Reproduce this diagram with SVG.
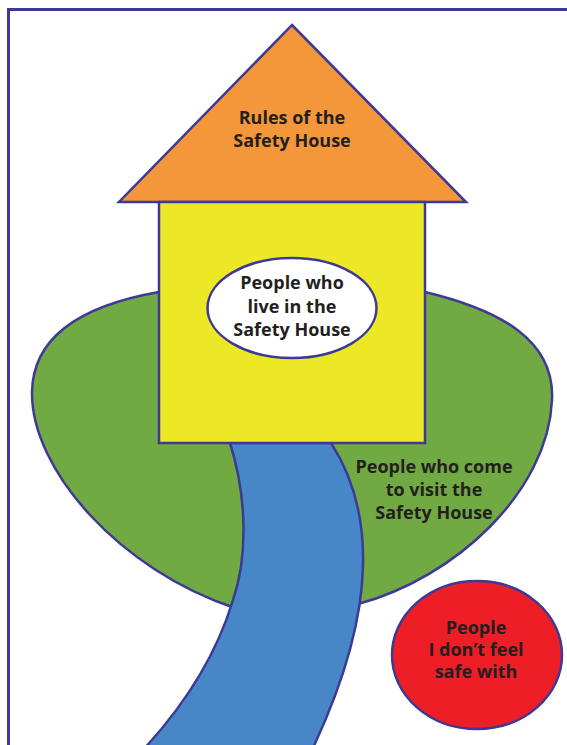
<svg xmlns="http://www.w3.org/2000/svg" width="567" height="745" viewBox="0 0 567 745">
<style>
.s{stroke:#3d3a96;stroke-width:2.5;stroke-linejoin:miter}
.t{font-family:"Open Sans","Noto Sans","Liberation Sans",sans-serif;font-weight:700;font-size:18px;fill:#231f20;text-anchor:middle}
</style>
<rect x="0" y="0" width="567" height="745" fill="#ffffff"/>
<rect x="8.5" y="9.5" width="620" height="800" fill="none" stroke="#3d3a96" stroke-width="3"/>
<g id="visitors">
<path class="s" fill="#71a942" d="M159,292 C85,305 33,335 32,392 C31,470 120,570 235,608 L358,604 C455,578 548,492 552,400 C555,340 500,310 425,292 Z"/>
<text class="t" x="434" y="473">People who come</text>
<text class="t" x="434" y="496">to visit the</text>
<text class="t" x="434" y="519">Safety House</text>
</g>
<g id="path">
<path class="s" fill="#4787c7" d="M230,443 C248,500 247,560 233,600 C215,660 180,710 143,750 L312,750 C345,680 362,620 363,565 C364,520 355,480 331,443 Z"/>
</g>
<g id="roof">
<polygon class="s" fill="#f4963a" points="292,25 466,202 119,202"/>
<text class="t" x="292" y="124">Rules of the</text>
<text class="t" x="292" y="147">Safety House</text>
</g>
<g id="house">
<rect class="s" fill="#ece826" x="159" y="202" width="266" height="241"/>
</g>
<g id="residents">
<ellipse class="s" fill="#ffffff" cx="292" cy="308" rx="84.5" ry="50"/>
<text class="t" x="292" y="289">People who</text>
<text class="t" x="292" y="313">live in the</text>
<text class="t" x="292" y="336">Safety House</text>
</g>
<g id="unsafe">
<ellipse class="s" fill="#ed1e26" cx="477" cy="655" rx="85" ry="74"/>
<text class="t" x="476" y="634">People</text>
<text class="t" x="476" y="656">I don’t feel</text>
<text class="t" x="476" y="678">safe with</text>
</g>
</svg>
